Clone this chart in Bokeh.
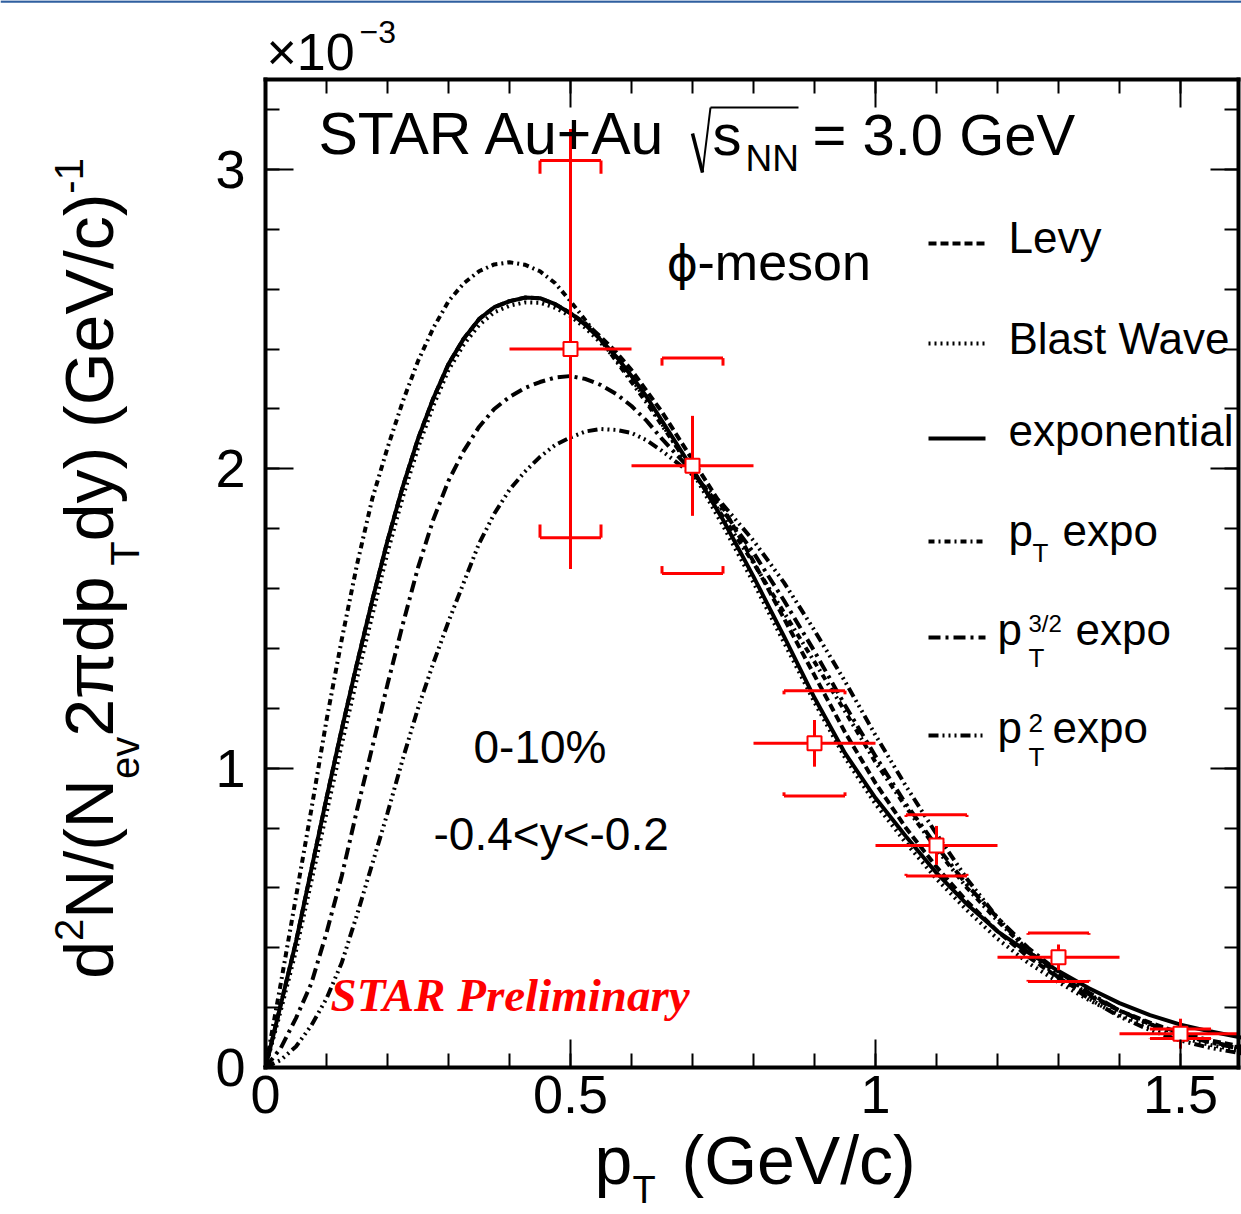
import numpy as np
from bokeh.plotting import figure
from bokeh.models import Range1d, LinearAxis, FixedTicker, Label, Arrow
from bokeh.embed import file_html
from bokeh.resources import INLINE

# ---------------- data (y values in units of 1e-3) ----------------
pt_fit = [0.0, 0.025, 0.05, 0.075, 0.1, 0.125, 0.15, 0.175, 0.2, 0.225, 0.25, 0.275,
          0.3, 0.325, 0.35, 0.375, 0.4, 0.425, 0.45, 0.475, 0.5, 0.525, 0.55, 0.575,
          0.6, 0.625, 0.65, 0.675, 0.7, 0.75, 0.8, 0.85, 0.9, 0.95, 1.0, 1.05, 1.1,
          1.15, 1.2, 1.25, 1.3, 1.35, 1.4, 1.45, 1.5, 1.55, 1.6]

fit_exp = [0.0, 0.21, 0.42, 0.66, 0.90, 1.13, 1.35, 1.56, 1.76, 1.94, 2.10, 2.235,
           2.35, 2.435, 2.50, 2.54, 2.56, 2.572, 2.57, 2.55, 2.52, 2.48, 2.43, 2.375,
           2.31, 2.24, 2.16, 2.08, 2.00, 1.83, 1.64, 1.44, 1.235, 1.05, 0.90, 0.772, 0.65,
           0.545, 0.455, 0.385, 0.322, 0.265, 0.215, 0.175, 0.143, 0.12, 0.10]

fit_levy = [0.0, 0.21, 0.42, 0.66, 0.90, 1.13, 1.35, 1.56, 1.76, 1.94, 2.10, 2.235,
            2.35, 2.435, 2.50, 2.54, 2.56, 2.572, 2.57, 2.55, 2.52, 2.485, 2.44, 2.39,
            2.33, 2.26, 2.19, 2.11, 2.03, 1.87, 1.69, 1.50, 1.31, 1.12, 0.95, 0.80, 0.67,
            0.555, 0.455, 0.37, 0.30, 0.24, 0.19, 0.15, 0.115, 0.09, 0.07]

fit_bw = [0.0, 0.19, 0.39, 0.62, 0.85, 1.08, 1.30, 1.51, 1.72, 1.905, 2.07, 2.21,
          2.33, 2.415, 2.48, 2.523, 2.545, 2.556, 2.555, 2.538, 2.51, 2.47, 2.42, 2.365,
          2.30, 2.23, 2.15, 2.07, 1.99, 1.81, 1.62, 1.42, 1.22, 1.035, 0.88, 0.75, 0.63,
          0.525, 0.43, 0.35, 0.285, 0.225, 0.175, 0.135, 0.10, 0.075, 0.055]

fit_pt = [0.0, 0.28, 0.57, 0.86, 1.16, 1.43, 1.68, 1.90, 2.07, 2.225, 2.36, 2.47,
          2.56, 2.62, 2.66, 2.683, 2.69, 2.682, 2.66, 2.62, 2.56, 2.495, 2.43, 2.36,
          2.29, 2.22, 2.145, 2.07, 1.995, 1.84, 1.685, 1.52, 1.355, 1.19, 1.02, 0.87, 0.73,
          0.60, 0.49, 0.39, 0.31, 0.245, 0.19, 0.145, 0.11, 0.085, 0.065]

fit_pt32 = [0.0, 0.065, 0.165, 0.28, 0.45, 0.64, 0.86, 1.07, 1.28, 1.48, 1.67, 1.83,
            1.96, 2.06, 2.14, 2.20, 2.24, 2.27, 2.29, 2.305, 2.31, 2.30, 2.28, 2.25,
            2.21, 2.16, 2.10, 2.045, 1.99, 1.86, 1.72, 1.56, 1.39, 1.21, 1.04, 0.88, 0.74,
            0.61, 0.50, 0.40, 0.32, 0.25, 0.19, 0.145, 0.11, 0.083, 0.062]

fit_pt2 = [0.0, 0.025, 0.07, 0.14, 0.23, 0.35, 0.51, 0.68, 0.85, 1.03, 1.20, 1.35,
           1.49, 1.62, 1.75, 1.85, 1.93, 1.99, 2.04, 2.08, 2.105, 2.125, 2.133, 2.13,
           2.12, 2.095, 2.06, 2.02, 1.98, 1.88, 1.76, 1.62, 1.46, 1.29, 1.11, 0.94, 0.78,
           0.63, 0.50, 0.39, 0.30, 0.23, 0.17, 0.125, 0.09, 0.065, 0.047]

pt_data = [0.5, 0.7, 0.9, 1.1, 1.3, 1.5]
y_data = [2.40, 2.01, 1.083, 0.742, 0.368, 0.113]
stat_err = [0.735, 0.167, 0.078, 0.065, 0.043, 0.050]
sys_err = [0.63, 0.36, 0.176, 0.102, 0.081, 0.016]
pt_halfbin = [0.1, 0.1, 0.1, 0.1, 0.1, 0.1]

x_ticks = [0, 0.5, 1.0, 1.5]
x_tick_labels = ["0", "0.5", "1", "1.5"]
y_ticks = [0, 1, 2, 3]
y_tick_labels = ["0", "1", "2", "3"]

# ---------------- page geometry ----------------
W, H = 1241, 1214
FL, FR, FT, FB = 265, 1238, 79, 1067      # axis frame edges on the page (px)
PXX, PXY = 610.0, 299.33                   # px per unit of x and y
XMAX = (FR - FL) / PXX
YMAX = (FB - FT) / PXY
FONT = "Liberation Sans"

# the drawing frame covers the whole page; axes are pinned at fixed locations
p = figure(width=W, height=H, output_backend="svg", toolbar_location=None,
           x_range=Range1d(-FL / PXX, (W - FL) / PXX),
           y_range=Range1d(-(H - FB) / PXY, FB / PXY),
           min_border=0, x_axis_location=None, y_axis_location=None)
p.grid.visible = False
p.outline_line_color = None
p.background_fill_color = "white"
p.border_fill_color = "white"

xt = FixedTicker(ticks=x_ticks, minor_ticks=[round(0.1 * i, 2) for i in range(16)])
yt = FixedTicker(ticks=y_ticks, minor_ticks=[round(0.2 * i, 2) for i in range(17)])


def mk_axis(ticker, overrides, show, standoff, loc, bounds):
    ax = LinearAxis(ticker=ticker, fixed_location=loc, bounds=bounds)
    ax.axis_line_width = 4
    ax.axis_line_color = "black"
    ax.axis_line_cap = "square"
    ax.major_tick_in = 28
    ax.major_tick_out = 0
    ax.minor_tick_in = 14
    ax.minor_tick_out = 0
    ax.major_tick_line_width = 2
    ax.minor_tick_line_width = 2
    ax.major_tick_line_color = "black"
    ax.minor_tick_line_color = "black"
    if show:
        ax.major_label_overrides = overrides
        ax.major_label_text_font = FONT
        ax.major_label_text_font_size = "54px"
        ax.major_label_text_color = "black"
        ax.major_label_standoff = standoff
    else:
        ax.major_label_text_font_size = "0px"
        ax.major_label_text_color = None
        ax.major_label_standoff = 0
    return ax


p.add_layout(mk_axis(xt, dict(zip(x_ticks, x_tick_labels)), True, 8, 0, (0, XMAX)), "below")
p.add_layout(mk_axis(yt, dict(zip(y_ticks, y_tick_labels)), True, 20, 0, (0, YMAX)), "left")
p.add_layout(mk_axis(xt, {}, False, 0, YMAX, (0, XMAX)), "above")
p.add_layout(mk_axis(yt, {}, False, 0, XMAX, (0, YMAX)), "right")

# ---------------- fit curves ----------------
styles = [
    (fit_levy, "8 4"),
    (fit_bw, "2 4"),
    (fit_exp, "solid"),
    (fit_pt, "6 4 2 4"),
    (fit_pt32, "12 5 3 5"),
    (fit_pt2, "10 4 2 4 2 4 2 4"),
]
for ys, dash in styles:
    p.line(pt_fit, ys, line_color="black", line_width=4, line_dash=dash)

# ---------------- data points ----------------
x = np.array(pt_data)
y = np.array(y_data)
st = np.array(stat_err)
sy_ = np.array(sys_err)
hb = np.array(pt_halfbin)
bw = 0.5 * hb          # half width of systematic brackets
hook = 0.07 * sy_      # bracket end-hook length

RED = "#ff0000"
p.segment(x - bw, y + sy_, x + bw, y + sy_, line_color=RED, line_width=3)
p.segment(x - bw, y - sy_, x + bw, y - sy_, line_color=RED, line_width=3)
for sgn in (-1, 1):
    p.segment(x + sgn * bw, y + sy_, x + sgn * bw, y + sy_ - hook, line_color=RED, line_width=3)
    p.segment(x + sgn * bw, y - sy_, x + sgn * bw, y - sy_ + hook, line_color=RED, line_width=3)
p.segment(x, y - st, x, y + st, line_color=RED, line_width=3)
p.segment(x - hb, y, np.minimum(x + hb, XMAX), y, line_color=RED, line_width=3)
p.scatter(x, y, marker="square", size=14, fill_color="white", line_color=RED, line_width=2)

# ---------------- text helpers (page pixel coords, top-left origin) ----------------
BASE_FIX = 0.40   # baseline correction (em)


def txt(px, py, s, size, font=FONT, color="black", angle=0, style="normal"):
    if angle == 90:
        X, Y = px - BASE_FIX * size, H - py
    else:
        X, Y = px, H - py + BASE_FIX * size
    p.add_layout(Label(x=X, y=Y, x_units="screen", y_units="screen",
                       text=s, text_font=font, text_font_size=f"{size}px",
                       text_color=color, angle=angle, angle_units="deg",
                       text_font_style=style, text_align="left", text_baseline="alphabetic"))


def seg(x0, y0, x1, y1, width=3.0, dash="solid", color="black"):
    p.add_layout(Arrow(end=None, start=None, x_start=x0, y_start=H - y0,
                       x_end=x1, y_end=H - y1, start_units="screen", end_units="screen",
                       line_color=color, line_width=width, line_dash=dash))


WID = {'d': 556, '2': 556, 'N': 722, '/': 278, '(': 333, ')': 333, 'e': 556, 'v': 500,
       ' ': 278, 'π': 570, 'p': 556, 'T': 611, 'y': 500, 'G': 778, 'V': 667, 'c': 500,
       '-': 333, '1': 556}


def tw(s, size):
    return sum(WID.get(c, 556) for c in s) * size / 1000.0


# blue line at top of the slide
seg(0, 1, W, 1, width=2.5, color="#2f5f9f")

# x10^-3
txt(266, 72, "×10", 52)
txt(359, 44, "−3", 32)

# title
txt(318, 157, "STAR Au+Au", 59)
seg(692, 133, 702, 172, width=3.5)
seg(702, 172, 710, 107, width=2)
seg(710, 107, 798, 107, width=2)
txt(712, 157, "s", 58)
txt(745, 173, "NN", 37)
txt(812, 157, "= 3.0 GeV", 58)

# phi-meson
txt(666, 282, "ϕ", 48, font="DejaVu Sans")
txt(697, 282, "-meson", 52)

# centrality / rapidity
txt(473, 765, "0-10%", 46)
txt(433, 852, "-0.4<y<-0.2", 46)

# STAR Preliminary
txt(330, 1013, "STAR Preliminary", 47, font="Liberation Serif", color=RED, style="bold italic")

# x-axis title
txt(594, 1187, "p", 68)
txt(632, 1205, "T", 38)
txt(681, 1187, "(GeV/c)", 68)

# y-axis title (rotated)
pieces = [("d", 'n'), ("2", 'sup'), ("N/(N", 'n'), ("ev", 'sub'), (" 2πdp", 'n'),
          ("T", 'sub'), ("dy) (GeV/c)", 'n'), ("-1", 'sup')]
base_x = {'n': 116, 'sub': 140, 'sup': 84}
size_of = {'n': 68, 'sub': 40, 'sup': 40}
total = sum(tw(s, size_of[k]) for s, k in pieces)
cur = 568 + total / 2.0
for s, k in pieces:
    txt(base_x[k], cur, s, size_of[k], angle=90)
    cur -= tw(s, size_of[k])

# legend
LX0, LX1 = 928, 985
rows = [243, 343, 438, 541, 637, 735]
for (ys, dash), ry in zip(styles, rows):
    seg(LX0, ry, LX1, ry, width=4, dash=dash)
LS = 44
txt(1008, 255, "Levy", LS)
txt(1008, 356, "Blast Wave", LS)
txt(1008, 448, "exponential", LS)
txt(1008, 548, "p", LS)
txt(1032, 563, "T", 26)
txt(1062, 548, "expo", LS)
txt(997, 647, "p", LS)
txt(1028, 633, "3/2", 24)
txt(1028, 668, "T", 26)
txt(1075, 647, "expo", LS)
txt(997, 745, "p", LS)
txt(1028, 733, "2", 26)
txt(1028, 767, "T", 26)
txt(1052, 745, "expo", LS)

open("out.html", "w").write(file_html(p, INLINE))
